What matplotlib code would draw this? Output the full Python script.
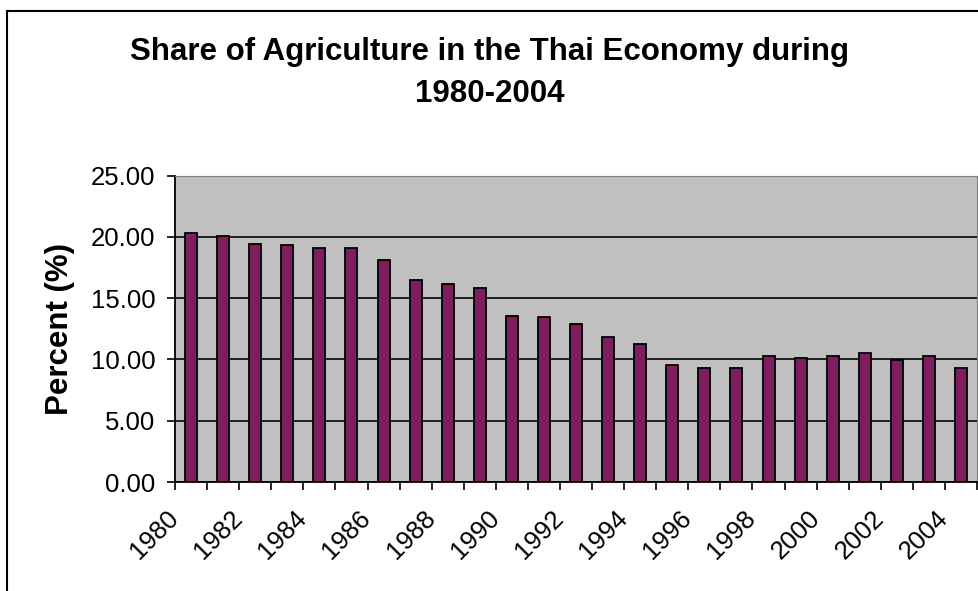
import matplotlib
matplotlib.use("Agg")
import matplotlib.pyplot as plt
import matplotlib.transforms as mtransforms
from matplotlib.patches import Rectangle

# data
years = list(range(1980, 2005))
share = [20.29, 20.07, 19.42, 19.31, 19.09, 19.09, 18.08, 16.45, 16.13, 15.80,
         13.55, 13.44, 12.90, 11.83, 11.29, 9.57, 9.29, 9.29, 10.27, 10.16,
         10.27, 10.49, 9.94, 10.27, 9.29]
yticks = [0, 5, 10, 15, 20, 25]

plt.rcParams["font.family"] = ["Liberation Sans", "DejaVu Sans"]

fig = plt.figure(figsize=(9.79, 5.91), dpi=100)
ax = fig.add_axes([0.1788, 0.1844, 0.8192, 0.5183])
ax.set_facecolor("#C0C0C0")

x = list(range(len(years)))
ax.bar(x, share, width=0.375, color="#7E1E5E", edgecolor="black", linewidth=1.3, zorder=3)

ax.set_xlim(-0.5, len(years) - 0.5)
ax.set_ylim(0, 25)
ax.set_yticks(yticks)
ax.set_yticklabels([f"{v:.2f}" for v in yticks], fontsize=18.5)
ax.yaxis.grid(True, color="black", linewidth=1.2, zorder=1)
ax.set_axisbelow(True)

# category boundaries get the tick marks, labels sit on every second category
ax.set_xticks([i - 0.5 for i in range(len(years) + 1)], minor=True)
ax.set_xticks(x[::2])
ax.set_xticklabels([str(y) for y in years[::2]], rotation=45, ha="right", va="top",
                   rotation_mode="anchor", fontsize=18.5)
ax.tick_params(axis="x", which="major", length=0, pad=17)
ax.tick_params(axis="x", which="minor", length=6, width=1.2, direction="out")
ax.tick_params(axis="y", length=6, width=1.2, direction="out", pad=8)

# nudge the rotated year labels left (after tick_params, which resets transforms)
shift = mtransforms.ScaledTranslation(-25 / 100, 0, fig.dpi_scale_trans)
for lab in ax.get_xticklabels():
    lab.set_transform(lab.get_transform() + shift)

ax.spines["left"].set_linewidth(1.3)
ax.spines["bottom"].set_linewidth(1.3)
ax.spines["top"].set_color("#808080")
ax.spines["right"].set_color("#808080")

ax.set_ylabel("Percent (%)", fontsize=22.5, fontweight="bold")
ax.yaxis.set_label_coords(-0.125, 0.5)

fig.text(0.5, 1 - 60 / 591, "Share of Agriculture in the Thai Economy during",
         ha="center", va="baseline", fontsize=22.5, fontweight="bold")
fig.text(0.5, 1 - 102 / 591, "1980-2004",
         ha="center", va="baseline", fontsize=22.5, fontweight="bold")

# chart border (cut off at right and bottom like the original)
fig.add_artist(Rectangle((7 / 979, -0.1), 1.2, (591 - 11) / 591 + 0.1,
                         transform=fig.transFigure, fill=False,
                         edgecolor="black", linewidth=1.5))

fig.savefig("out.png", dpi=100)
